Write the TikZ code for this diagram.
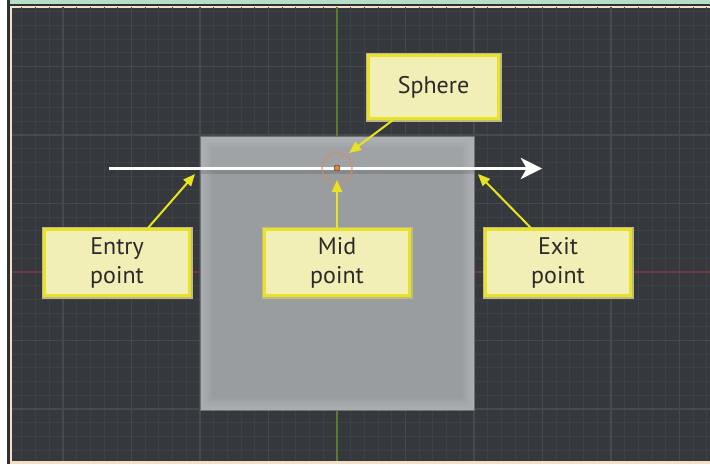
\documentclass[tikz,border=0pt]{standalone}
\usepackage{fontspec}
\setmainfont{PT Sans}
\usetikzlibrary{arrows.meta,calc}
\definecolor{gridbg}{HTML}{35383C}
\definecolor{gridminor}{HTML}{3E4145}
\definecolor{gridmajor}{HTML}{46494D}
\definecolor{axisgreen}{HTML}{5C7A2C}
\definecolor{axisred}{HTML}{6E3A44}
\definecolor{topgreen}{HTML}{B6DDC6}
\definecolor{framedark}{HTML}{2E3033}
\definecolor{peach}{HTML}{F6DEC4}
\definecolor{sqmid}{HTML}{999DA0}
\definecolor{sqlight}{HTML}{C4C7C9}
\definecolor{sqedge}{HTML}{6E7275}
\definecolor{boxfill}{HTML}{F1EEB6}
\definecolor{boxshade}{HTML}{BDBA86}
\definecolor{boxyellow}{HTML}{E8E22A}
\definecolor{arrowyellow}{HTML}{E9E320}
\definecolor{textdark}{HTML}{2A2A2A}
\definecolor{sphring}{HTML}{D58B62}
\definecolor{sphdot}{HTML}{E8862C}
\tikzset{
  labelbox/.style={draw=boxyellow, line width=2.25pt, fill=boxfill,
    preaction={draw=boxshade, line width=4.5pt},
    minimum width=108.75pt, minimum height=49.5pt, align=center,
    inner sep=0pt, text=textdark,
    font=\fontsize{18pt}{21.75pt}\selectfont},
  yarrow/.style={draw=arrowyellow, line width=1.5pt,
    -{Triangle[length=9pt,width=7.5pt]}},
  rayline/.style={draw=white, line width=1.6pt,
    -{Stealth[length=16pt,width=16pt,inset=4.5pt]}},
}
\begin{document}
\begin{tikzpicture}[x=0.75pt,y=-0.75pt]
\useasboundingbox (0,0) rectangle (710,464);
\fill[white] (0,0) rectangle (710,464);
% frame
\fill[framedark] (7,0) rectangle (9.5,464);
\fill[topgreen] (9.5,0) rectangle (710,4.3);
\fill[framedark] (9.5,4.3) rectangle (710,5.6);
\fill[peach] (9.5,5.6) rectangle (710,464);
% grid
\begin{scope}
\clip (12,7.8) rectangle (710,460.8);
\fill[gridbg] (12,7.8) rectangle (710,460.8);
\foreach \k in {-24,...,27} {
  \pgfmathsetmacro{\xx}{337+13.7*\k}
  \draw[gridminor, line width=0.75pt] (\xx,0) -- (\xx,464);
}
\foreach \k in {-20,...,15} {
  \pgfmathsetmacro{\yy}{272+13.7*\k}
  \draw[gridminor, line width=0.75pt] (0,\yy) -- (710,\yy);
}
\foreach \k in {-5,...,6} {
  \pgfmathsetmacro{\xx}{337+68.5*\k}
  \draw[gridmajor, line width=0.9pt] (\xx,0) -- (\xx,464);
}
\foreach \k in {-4,...,3} {
  \pgfmathsetmacro{\yy}{272+68.5*\k}
  \draw[gridmajor, line width=0.9pt] (0,\yy) -- (710,\yy);
}
\draw[axisgreen, line width=0.9pt] (337,0) -- (337,464);
\draw[axisred, line width=0.9pt] (0,272) -- (710,272);
\end{scope}
% square
\begin{scope}
\clip (200,136) rectangle (474,410);
\fill[sqmid] (200,136) rectangle (474,410);
\foreach \w in {2,4,...,24} {
  \draw[sqlight, opacity=0.06, line width=\w*0.75pt] (200,136) rectangle (474,410);
}
\fill[sqlight, opacity=0.15] (200,136) rectangle (474,168);
\draw[black, opacity=0.12, line width=3pt] (200,171.5) -- (474,171.5);
\end{scope}
\draw[sqedge, line width=0.6pt] (200,136) rectangle (474,410);
% ray
\coordinate (raystart) at (109,168.5);
\coordinate (rayend) at (542,168.5);
\draw[rayline] (raystart) -- (rayend);
% sphere
\node[circle, draw=sphring, draw opacity=0.75, line width=1pt, minimum size=22.5pt, inner sep=0pt] (ring) at (337,168) {};
\node[circle, fill=sphdot, draw=black!70, line width=0.4pt, minimum size=4.5pt, inner sep=0pt] (dot) at (337,168) {};
% boxes
\node[labelbox, minimum width=97.5pt, minimum height=47.25pt] (sphere) at (433.5,87) {Sphere};
\node[labelbox] (entry) at (117,262.5) {Entry\\point};
\node[labelbox] (mid) at (337,262.5) {Mid\\point};
\node[labelbox] (exit) at (558,262.5) {Exit\\point};
% arrow tips
\coordinate (entrytip) at (195,174);
\coordinate (midtip) at (337,180);
\coordinate (exittip) at (478,174);
\coordinate (spheretip) at (349,153);
\draw[yarrow] ($(entry.north)+(31,0)$) -- (entrytip);
\draw[yarrow] (mid.north) -- (midtip);
\draw[yarrow] ($(exit.north)+(-27,0)$) -- (exittip);
\draw[yarrow] ($(sphere.south)+(-40.5,0)$) -- (spheretip);
\end{tikzpicture}
\end{document}
